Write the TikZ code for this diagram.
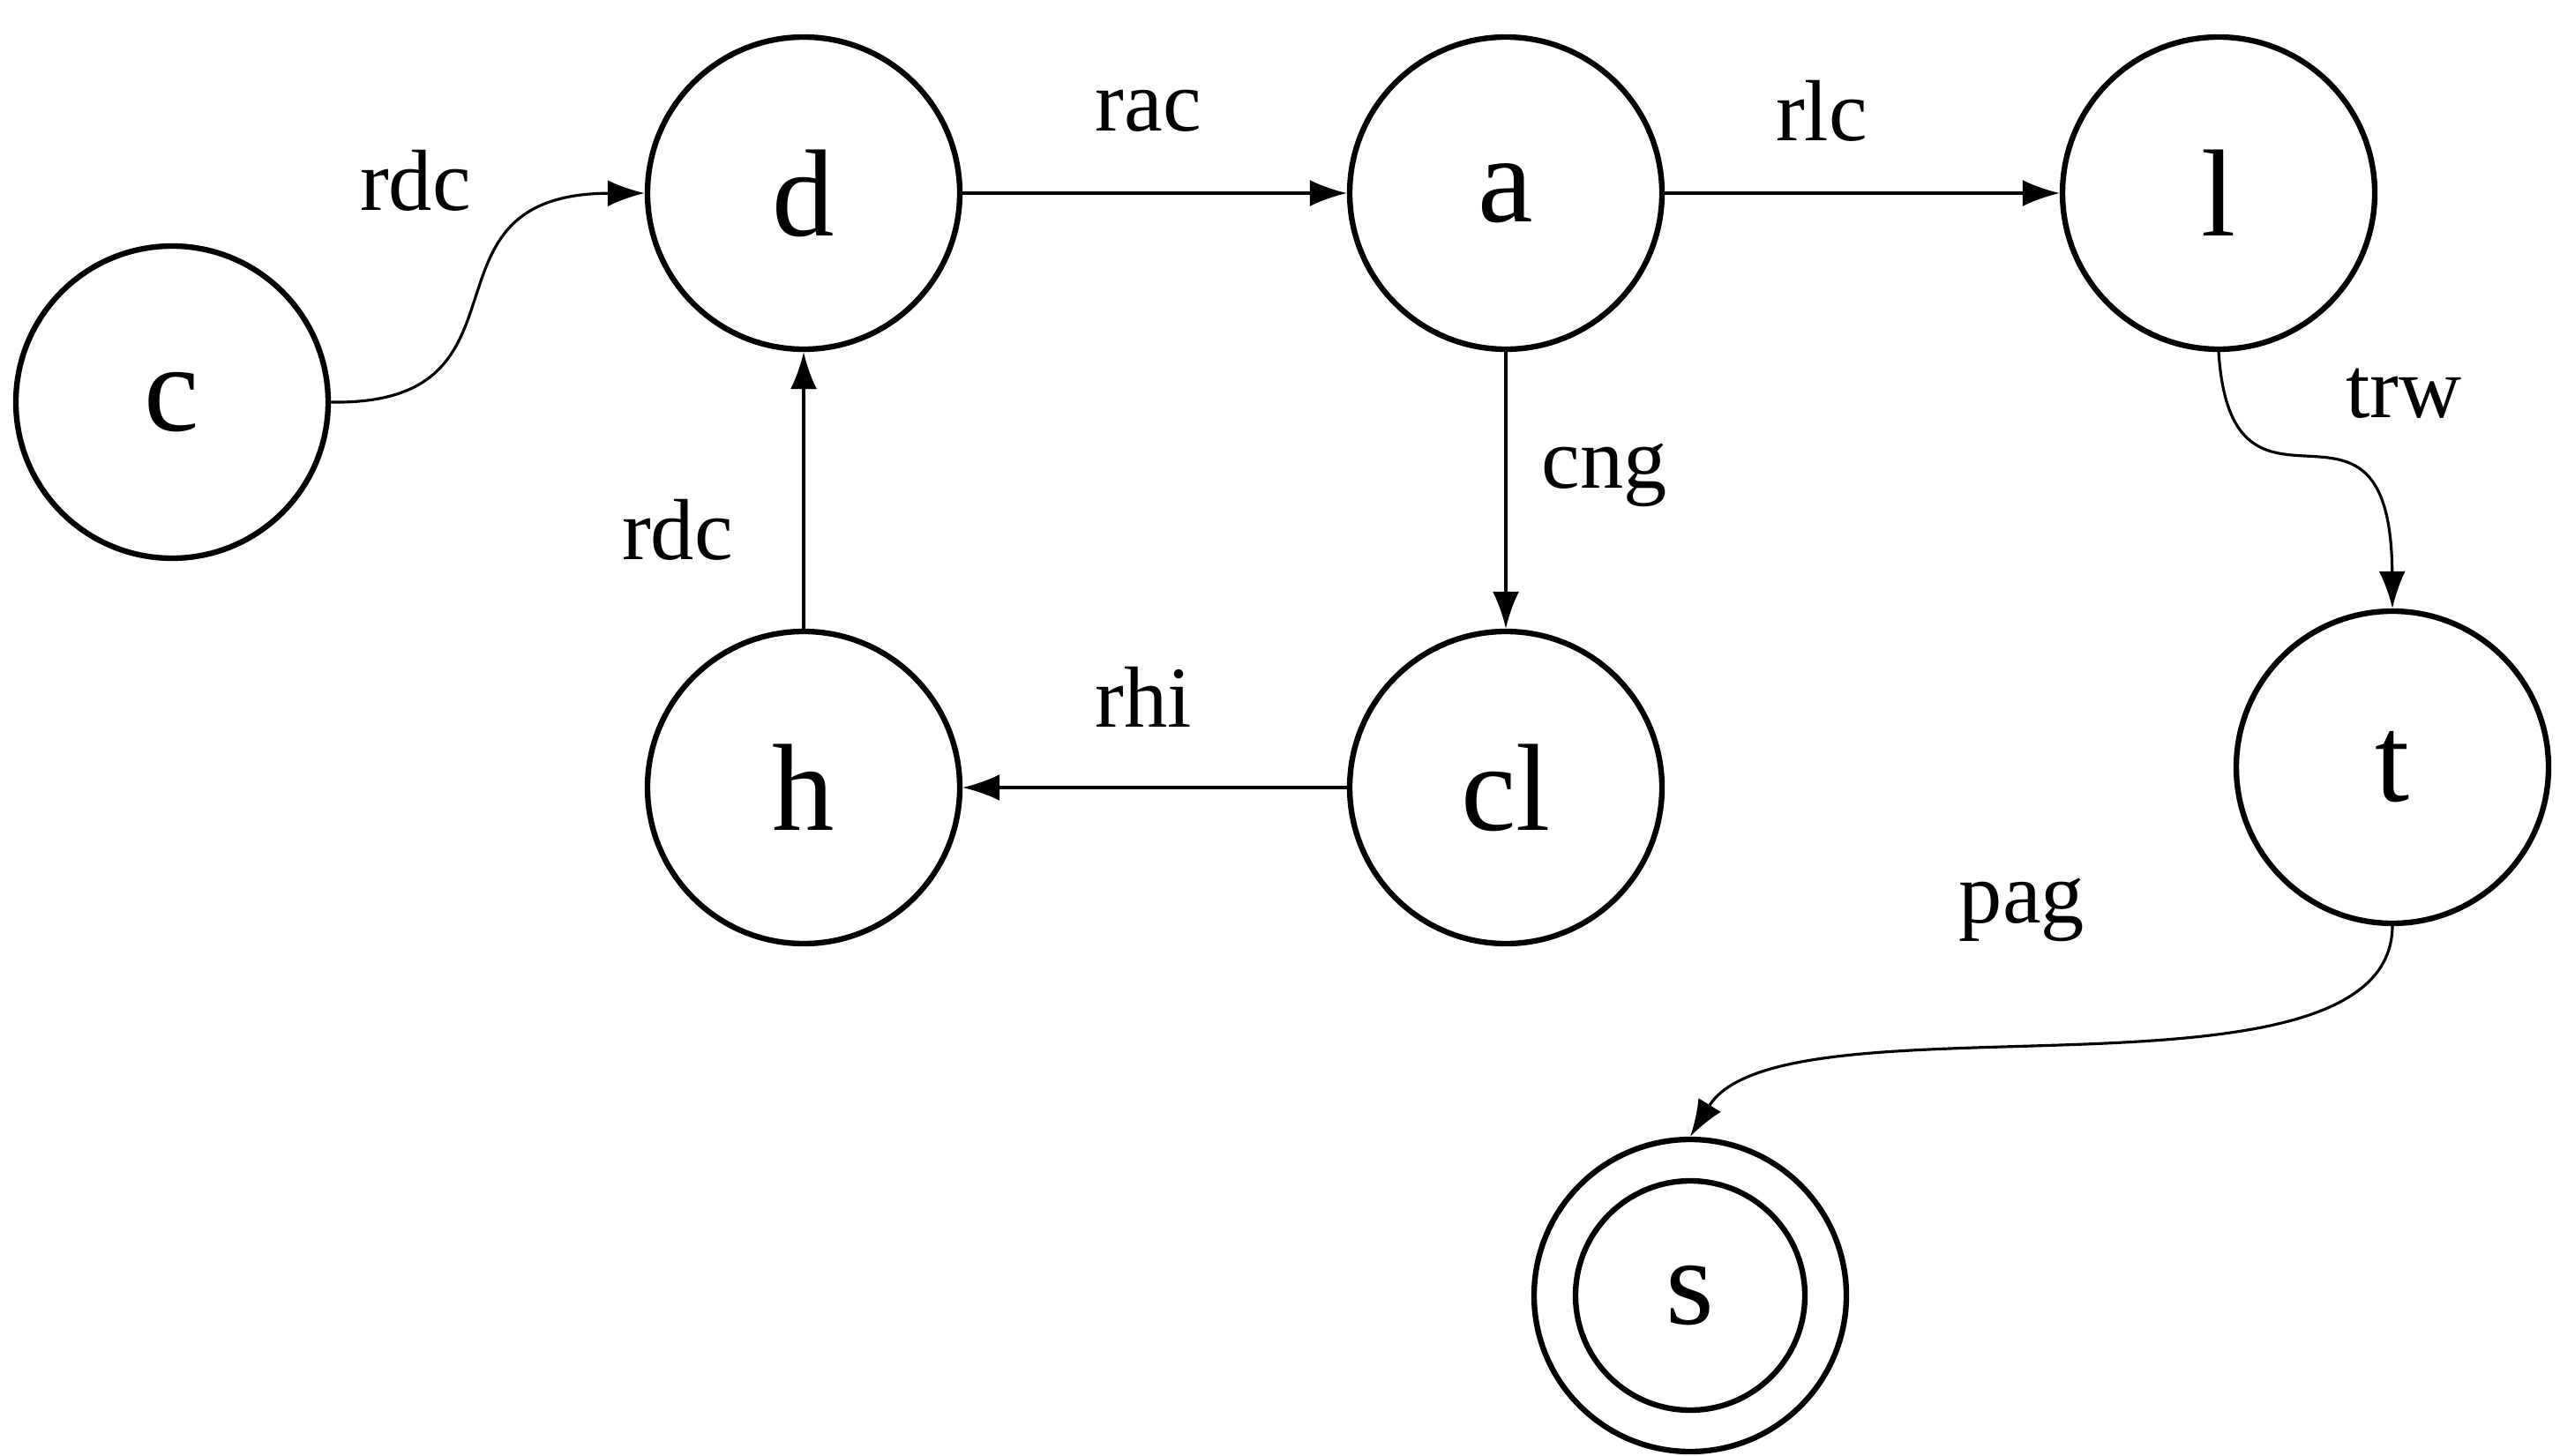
\documentclass[tikz,border=0pt]{standalone}
\usepackage{fontspec}
\setmainfont{Liberation Serif}
\usetikzlibrary{arrows.meta}
\begin{document}
\begin{tikzpicture}[
  st/.style={circle,draw,line width=1.8pt,minimum size=3.54cm,inner sep=0pt,font=\fontsize{40}{44}\selectfont},
  e/.style={-{Latex[length=0.42cm,width=0.3cm]},line width=0.9pt},
  lb/.style={font=\fontsize{28}{32}\selectfont}]
\useasboundingbox (0,0) rectangle (29.02,16.5);
\node[st] (c) at (1.95,11.94) {c};
\node[st] (d) at (9.11,14.31) {d};
\node[st] (a) at (17.07,14.31) {a};
\node[st] (l) at (25.15,14.31) {l};
\node[st] (h) at (9.11,7.57) {h};
\node[st] (cl) at (17.07,7.57) {cl};
\node[st] (t) at (27.12,7.80) {t};
\node[st] (s) at (19.16,1.81) {};
\node[st,minimum size=2.6cm] (si) at (19.16,1.81) {s};
\draw[e] (c.east) .. controls (6.2,11.9) and (4.6,14.3) .. (d.west);
\draw[e] (d) -- (a);
\draw[e] (a) -- (l);
\draw[e] (a) -- (cl);
\draw[e] (cl) -- (h);
\draw[e] (h) -- (d);
\draw[e] (l.south) .. controls (25.3,10.2) and (27.1,12.5) .. (t.north);
\draw[e] (t.south) .. controls (27.1,3.8) and (20.2,5.3) .. (s.north);
\node[lb] (l1) at (4.71,14.45) {rdc};
\node[lb] (l2) at (13.02,15.24) {rac};
\node[lb] (l3) at (20.65,15.24) {rlc};
\node[lb] (l4) at (18.19,11.11) {cng};
\node[lb] (l5) at (12.96,8.60) {rhi};
\node[lb] (l6) at (7.68,10.49) {rdc};
\node[lb] (l7) at (27.25,12.04) {trw};
\node[lb] (l8) at (22.92,6.18) {pag};
\end{tikzpicture}
\end{document}
